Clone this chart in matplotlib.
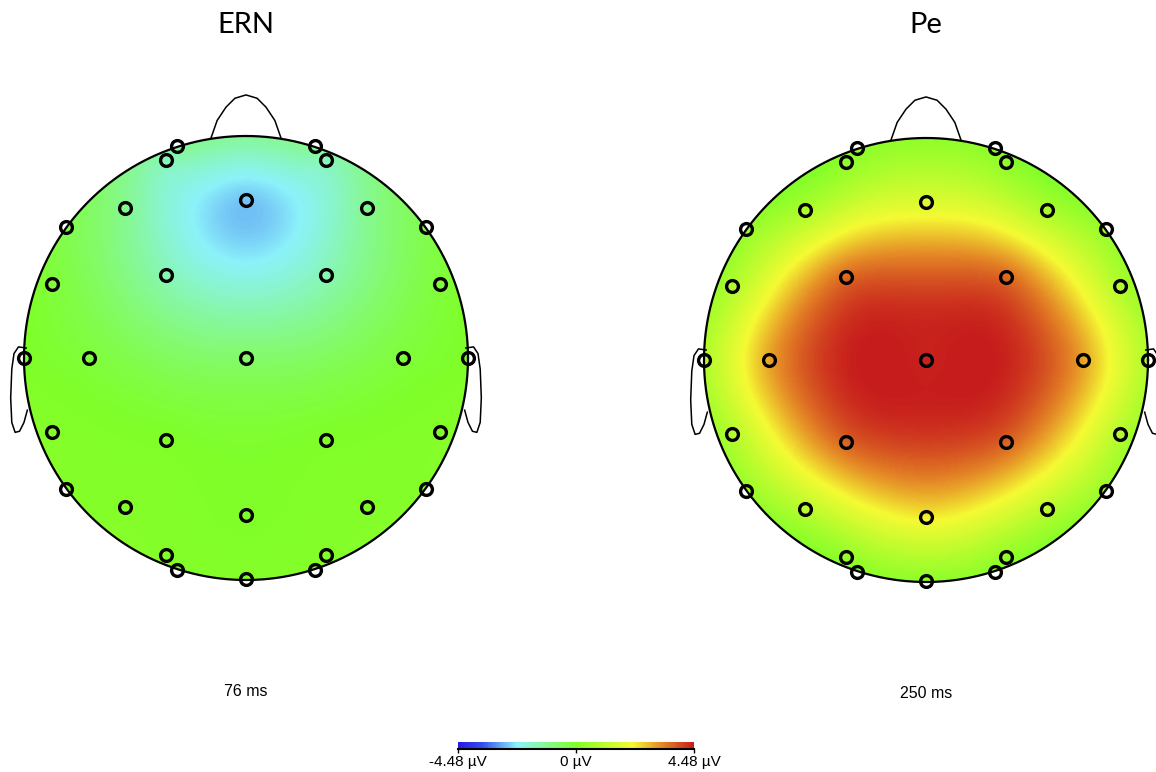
import numpy as np
import matplotlib
matplotlib.use("Agg")
import matplotlib.pyplot as plt
from matplotlib.colors import LinearSegmentedColormap
from matplotlib.patches import Circle

# electrode positions (head radius = 1, nose up)
elec_x = [-0.311, -0.360, 0.311, 0.360, -0.545, 0.0, 0.545, -0.811, 0.811,
          -0.360, 0.360, -0.874, 0.874, -1.0, -0.707, 0.0, 0.707, 1.0,
          -0.874, -0.360, 0.360, 0.874, -0.811, 0.811, -0.545, 0.0, 0.545,
          -0.360, -0.311, 0.360, 0.311, 0.0]
elec_y = [0.955, 0.892, 0.955, 0.892, 0.676, 0.712, 0.676, 0.590, 0.590,
          0.374, 0.374, 0.333, 0.333, 0.0, 0.0, 0.0, 0.0, 0.0,
          -0.333, -0.369, -0.369, -0.333, -0.590, -0.590, -0.671, -0.707, -0.671,
          -0.887, -0.955, -0.887, -0.955, -0.995]

# amplitudes in microvolts, same electrode order
ern_vals = [-1.1, -1.5, -1.1, -1.5, -1.1, -2.6, -1.1, -0.4, -0.4,
            -1.5, -1.5, -0.2, -0.2, 0.0, -0.2, -0.7, -0.2, 0.0,
            0.1, 0.0, 0.0, 0.1, 0.1, 0.1, 0.1, 0.0, 0.1,
            0.1, 0.1, 0.1, 0.1, 0.1]
pe_vals = [0.2, 0.3, 0.2, 0.3, 0.8, 1.7, 0.8, 0.4, 0.4,
           3.6, 3.6, 0.9, 0.9, 0.9, 3.0, 4.4, 3.0, 0.9,
           1.0, 3.7, 3.7, 1.0, 0.5, 0.5, 1.1, 2.3, 1.1,
           0.4, 0.2, 0.4, 0.2, 0.3]

titles = ["ERN", "Pe"]
times = ["76 ms", "250 ms"]
vlim = 4.48
cbar_ticks = [-4.48, 0, 4.48]
cbar_labels = ["-4.48 µV", "0 µV", "4.48 µV"]

cmap = LinearSegmentedColormap.from_list("topo", [
    (0.0, (0.15, 0.10, 0.90)),
    (0.1, (0.20, 0.30, 0.92)),
    (0.25, (0.55, 0.95, 0.98)),
    (0.5, (0.50, 1.00, 0.16)),
    (0.74, (0.96, 0.98, 0.20)),
    (0.86, (0.90, 0.55, 0.15)),
    (1.0, (0.78, 0.11, 0.11)),
])


def tps_field(vals, gx, gy):
    px = np.array(elec_x)
    py = np.array(elec_y)
    v = np.array(vals)
    n = len(px)

    def phi(r):
        with np.errstate(divide="ignore", invalid="ignore"):
            out = r ** 2 * np.log(r)
        return np.nan_to_num(out)

    d = np.hypot(px[:, None] - px[None, :], py[:, None] - py[None, :])
    K = phi(d)
    P = np.column_stack([np.ones(n), px, py])
    A = np.zeros((n + 3, n + 3))
    A[:n, :n] = K
    A[:n, n:] = P
    A[n:, :n] = P.T
    b = np.concatenate([v, np.zeros(3)])
    sol = np.linalg.solve(A, b)
    w, a = sol[:n], sol[n:]
    dg = np.hypot(gx[..., None] - px, gy[..., None] - py)
    return phi(dg) @ w + a[0] + a[1] * gx + a[2] * gy


fig = plt.figure(figsize=(11.56, 7.72), dpi=100)
W, H = 1156, 772
R = 222
centers = [(246, 358), (926, 360)]

g = np.linspace(-1.02, 1.02, 300)
gx, gy = np.meshgrid(g, g)

for k, vals in enumerate([ern_vals, pe_vals]):
    cx, cy = centers[k]
    ax = fig.add_axes([(cx - 1.1 * R) / W, (H - cy - 1.25 * R) / H,
                       2.2 * R / W, 2.5 * R / H])
    ax.set_xlim(-1.1, 1.1)
    ax.set_ylim(-1.25, 1.25)
    ax.axis("off")

    z = tps_field(vals, gx, gy)
    im = ax.imshow(z, origin="lower", extent=[-1.02, 1.02, -1.02, 1.02],
                   cmap=cmap, vmin=-vlim, vmax=vlim, interpolation="bilinear")
    clip = Circle((0, 0), 1.0, transform=ax.transData)
    im.set_clip_path(clip)

    # head outline, nose, ears
    t = np.linspace(0, 2 * np.pi, 400)
    ax.plot(np.cos(t), np.sin(t), color="black", lw=1.6)
    nose_x = [-0.158, -0.13, -0.09, -0.05, 0.0, 0.05, 0.09, 0.13, 0.158]
    nose_y = [0.99, 1.07, 1.13, 1.17, 1.185, 1.17, 1.13, 1.07, 0.99]
    ax.plot(nose_x, nose_y, color="black", lw=1.1)
    ear_x = np.array([0.99, 1.025, 1.045, 1.055, 1.06, 1.055, 1.04, 1.02, 1.0, 0.985])
    ear_y = np.array([0.045, 0.05, 0.02, -0.05, -0.18, -0.29, -0.335, -0.33, -0.29, -0.235])
    ax.plot(-ear_x, ear_y, color="black", lw=1.1)
    ax.plot(ear_x, ear_y, color="black", lw=1.1)

    ax.plot(elec_x, elec_y, "o", ms=8.5, mfc="none", mec="black", mew=2.4)

    fig.text(cx / W, 1 - 25 / H, titles[k], ha="center", va="center",
             fontsize=21, family="Lato")
    fig.text(cx / W, 1 - (692 + 2 * k) / H, times[k], ha="center", va="center",
             fontsize=11.5, family="Liberation Sans")

cax = fig.add_axes([458 / W, 1 - 749 / H, 236 / W, 7 / H])
sm = plt.cm.ScalarMappable(cmap=cmap, norm=plt.Normalize(-vlim, vlim))
cb = fig.colorbar(sm, cax=cax, orientation="horizontal", ticks=cbar_ticks)
cb.outline.set_visible(False)
cax.axhline(0, color="black", lw=1.5, clip_on=False)
cax.tick_params(length=3, width=1, pad=1)
cax.set_xticklabels(cbar_labels, fontsize=11, family="Liberation Sans")

fig.savefig("out.png", dpi=100)
